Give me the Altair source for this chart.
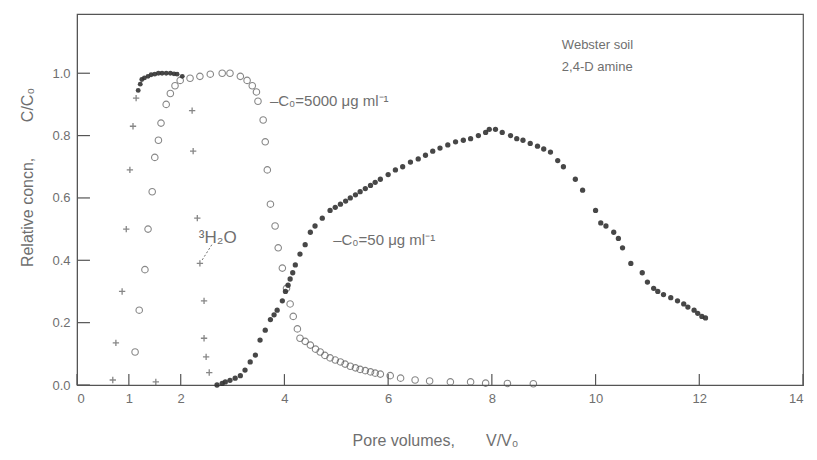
import altair as alt
import pandas as pd

# C0 = 50 ug/ml (small filled dots)
x50 = [2.70, 2.80, 2.86, 2.95, 3.05, 3.15, 3.24, 3.34, 3.44, 3.53, 3.63, 3.73, 3.80, 3.86, 3.96,
       4.02, 4.07, 4.11, 4.16, 4.21, 4.30, 4.40, 4.50, 4.59, 4.73, 4.88, 4.98, 5.08, 5.18, 5.27,
       5.37, 5.46, 5.56, 5.66, 5.75, 5.85, 6.00, 6.14, 6.28, 6.43, 6.58, 6.72, 6.86, 7.00, 7.15,
       7.30, 7.45, 7.59, 7.74, 7.88, 7.95, 8.07, 8.20, 8.36, 8.48, 8.60, 8.74, 8.88, 9.00, 9.13,
       9.27, 9.38, 9.61, 9.75, 10.0, 10.1, 10.2, 10.35, 10.44, 10.52, 10.68, 10.9, 11.0, 11.12,
       11.2, 11.31, 11.45, 11.58, 11.7, 11.78, 11.9, 11.97, 12.05, 12.12]
y50 = [0.00, 0.005, 0.01, 0.015, 0.022, 0.03, 0.048, 0.074, 0.096, 0.144, 0.176, 0.21, 0.225, 0.24, 0.27,
       0.30, 0.32, 0.34, 0.36, 0.385, 0.42, 0.45, 0.49, 0.51, 0.535, 0.56, 0.57, 0.58, 0.59, 0.60,
       0.61, 0.62, 0.63, 0.64, 0.65, 0.66, 0.675, 0.69, 0.70, 0.715, 0.725, 0.737, 0.75, 0.76, 0.77,
       0.78, 0.785, 0.79, 0.80, 0.81, 0.82, 0.82, 0.81, 0.80, 0.79, 0.785, 0.775, 0.766, 0.757, 0.747,
       0.72, 0.70, 0.66, 0.625, 0.56, 0.52, 0.51, 0.49, 0.47, 0.44, 0.39, 0.36, 0.33, 0.31,
       0.30, 0.29, 0.28, 0.27, 0.26, 0.25, 0.24, 0.23, 0.22, 0.215]

# C0 = 5000 ug/ml (open circles)
x5000 = [1.12, 1.20, 1.31, 1.37, 1.45, 1.50, 1.57, 1.62, 1.72, 1.80, 1.89, 1.99, 2.18, 2.37, 2.57,
         2.80, 2.95, 3.15, 3.28, 3.38, 3.46, 3.49, 3.59, 3.63, 3.67, 3.73, 3.82, 3.88, 3.96, 4.04,
         4.11, 4.17, 4.25, 4.30, 4.40, 4.50, 4.60, 4.69, 4.78, 4.88, 4.98, 5.08, 5.17, 5.27, 5.37,
         5.46, 5.56, 5.66, 5.75, 5.85, 6.04, 6.24, 6.52, 6.80, 7.20, 7.59, 7.88, 8.30, 8.80]
y5000 = [0.106, 0.24, 0.37, 0.50, 0.62, 0.73, 0.785, 0.84, 0.90, 0.935, 0.96, 0.977, 0.984, 0.99, 0.997,
         1.0, 1.0, 0.99, 0.977, 0.96, 0.94, 0.91, 0.85, 0.78, 0.69, 0.58, 0.51, 0.44, 0.375, 0.31,
         0.26, 0.22, 0.18, 0.15, 0.14, 0.128, 0.115, 0.106, 0.095, 0.087, 0.08, 0.074, 0.067, 0.06, 0.055,
         0.05, 0.046, 0.042, 0.038, 0.035, 0.03, 0.022, 0.016, 0.013, 0.01, 0.01, 0.006, 0.005, 0.004]

# Tritiated water (plus markers)
xh2o = [0.69, 0.75, 0.87, 0.95, 1.02, 1.08, 1.14, 1.52,
        2.22, 2.24, 2.32, 2.37, 2.45, 2.45, 2.49, 2.55]
yh2o = [0.016, 0.135, 0.30, 0.50, 0.69, 0.83, 0.92, 0.01,
        0.88, 0.75, 0.535, 0.39, 0.27, 0.15, 0.09, 0.04]
# plateau of tritiated water (dense dots)
xh2o_top = [1.18, 1.22, 1.25, 1.30, 1.37, 1.43, 1.50, 1.57, 1.64, 1.72, 1.80, 1.87, 1.93, 2.03]
yh2o_top = [0.945, 0.965, 0.98, 0.985, 0.99, 0.995, 0.997, 1.0, 1.0, 1.0, 1.0, 0.998, 0.997, 0.99]

x_ticks = [0, 1, 2, 4, 6, 8, 10, 12, 14]
y_ticks = [0.0, 0.2, 0.4, 0.6, 0.8, 1.0]

ann_text = ["Webster soil", "2,4-D amine", "–C₀=5000 μg ml⁻¹", "–C₀=50 μg ml⁻¹", "³H₂O"]
ann_x = [9.35, 9.35, 3.72, 4.94, 2.35]
ann_y = [1.09, 1.02, 0.91, 0.465, 0.47]
ann_size = [13, 13, 15, 15, 17]

lead_x = [2.60]
lead_x2 = [2.41]
lead_y = [0.45]
lead_y2 = [0.40]

NB = "\u00a0"
x_title = "Pore volumes," + NB * 7 + "V/V₀"
y_title = "Relative concn," + NB * 8 + "C/C₀"

GRAY = "#555555"
TXT = "#6f6f6f"
FONT = "Liberation Sans"
xs = alt.Scale(domain=[0, 14], nice=False, zero=False)
ys = alt.Scale(domain=[0, 1.19], nice=False)

d50 = pd.DataFrame({"x": x50, "y": y50})
d5000 = pd.DataFrame({"x": x5000, "y": y5000})
dh = pd.DataFrame({"x": xh2o, "y": yh2o})
dht = pd.DataFrame({"x": xh2o_top, "y": yh2o_top})
dxt = pd.DataFrame({"x": x_ticks, "y0": [0.0] * len(x_ticks), "y1": [0.035] * len(x_ticks)})
dyt = pd.DataFrame({"y": y_ticks, "x0": [0.0] * len(y_ticks), "x1": [0.25] * len(y_ticks)})
dann = pd.DataFrame({"t": ann_text, "x": ann_x, "y": ann_y, "s": ann_size})
dlead = pd.DataFrame({"x": lead_x, "x2": lead_x2, "y": lead_y, "y2": lead_y2})

xaxis = alt.Axis(values=x_ticks, ticks=False, grid=False, domain=True, domainColor=GRAY,
                 labelColor=TXT, labelFontSize=13, labelPadding=7, labelFont=FONT,
                 title=x_title, titleColor=TXT, titleFontSize=16,
                 titleFontWeight="normal", titleFont=FONT, titleX=358, titleY=47)
yaxis = alt.Axis(values=y_ticks, format=".1f", ticks=False, grid=False, domain=True, domainColor=GRAY,
                 labelColor=TXT, labelFontSize=13, labelPadding=7, labelFont=FONT,
                 title=y_title, titleColor=TXT, titleFontSize=16,
                 titleFontWeight="normal", titleFont=FONT, titleX=-42, titleY=163)

base_x = alt.X("x:Q", scale=xs, axis=xaxis)
base_y = alt.Y("y:Q", scale=ys, axis=yaxis)

circles = alt.Chart(d5000).mark_point(shape="circle", filled=False, size=42, strokeWidth=1.1,
                                      color=GRAY).encode(x=base_x, y=base_y)
dots = alt.Chart(d50).mark_circle(size=28, color="#333333", opacity=0.9).encode(x="x:Q", y="y:Q")
plus = alt.Chart(dh).mark_point(shape="M-1,0H1M0,-1V1", filled=False, size=40, strokeWidth=1.3,
                                color=GRAY).encode(x="x:Q", y="y:Q")
plus_top = alt.Chart(dht).mark_circle(size=24, color="#333333", opacity=0.9).encode(x="x:Q", y="y:Q")

xt = alt.Chart(dxt).mark_rule(color=GRAY, strokeWidth=1.2).encode(x="x:Q", y="y0:Q", y2="y1:Q")
yt = alt.Chart(dyt).mark_rule(color=GRAY, strokeWidth=1.2).encode(y="y:Q", x="x0:Q", x2="x1:Q")

ann = alt.Chart(dann).mark_text(align="left", baseline="middle", color=TXT, font=FONT).encode(
    x="x:Q", y="y:Q", text="t:N", size=alt.Size("s:Q", scale=None, legend=None))
lead = alt.Chart(dlead).mark_rule(color=TXT, strokeWidth=1, strokeDash=[2, 2]).encode(
    x="x:Q", x2="x2:Q", y="y:Q", y2="y2:Q")

chart = alt.layer(circles, dots, plus, plus_top, xt, yt, ann, lead).properties(
    width=726, height=371,
    padding={"left": 69, "top": 6, "right": 6, "bottom": 68},
    autosize=alt.AutoSizeParams(type="none"),
    background="white",
).configure_view(stroke=GRAY, strokeWidth=1.2)

chart.save("out.html", embed_options={"renderer": "svg", "actions": False})
